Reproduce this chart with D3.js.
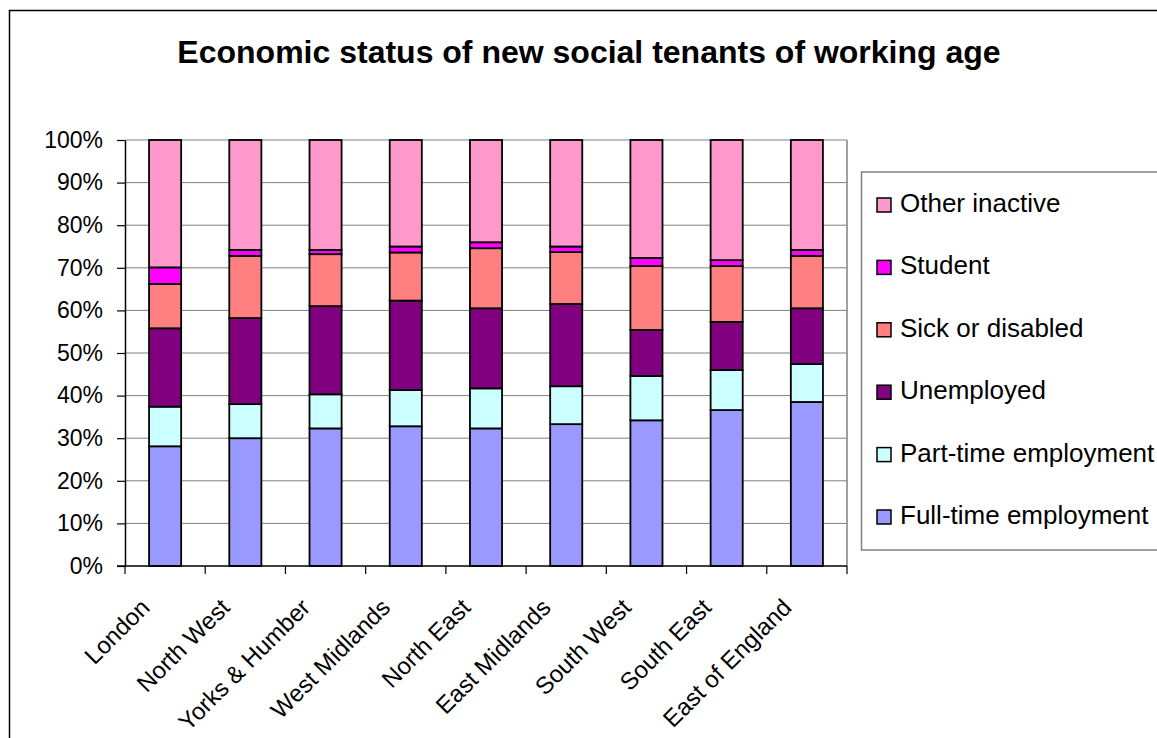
<!DOCTYPE html>
<html>
<head>
<meta charset="utf-8">
<script src="https://cdn.jsdelivr.net/npm/d3@7"></script>
<style>
    body { margin: 0; background: #fff; }
    svg { display: block; font-family: Arial, 'Liberation Sans', sans-serif; }
</style>
</head>
<body>
<svg id="chart" width="1157" height="738"></svg>
<script>
// Categories and series (percent of new social tenants of working age)
const regions = ['London', 'North West', 'Yorks & Humber', 'West Midlands', 'North East',
    'East Midlands', 'South West', 'South East', 'East of England'];
const statuses = ['Full-time employment', 'Part-time employment', 'Unemployed',
    'Sick or disabled', 'Student', 'Other inactive'];

const fullTime      = [28.1, 30.0, 32.3, 32.8, 32.3, 33.3, 34.2, 36.6, 38.5];
const partTime      = [ 9.3,  8.0,  8.0,  8.5,  9.4,  8.9, 10.4,  9.4,  8.9];
const unemployed    = [18.4, 20.2, 20.7, 21.0, 18.8, 19.3, 10.8, 11.3, 13.1];
const sickDisabled  = [10.4, 14.6, 12.2, 11.3, 14.1, 12.2, 15.0, 13.1, 12.3];
const student       = [ 3.9,  1.4,  1.0,  1.4,  1.4,  1.3,  1.9,  1.4,  1.4];
const otherInactive = [29.9, 25.8, 25.8, 25.0, 24.0, 25.0, 27.7, 28.2, 25.8];

const yTicks = [0, 10, 20, 30, 40, 50, 60, 70, 80, 90, 100];

const seriesValues = [fullTime, partTime, unemployed, sickDisabled, student, otherInactive];
const colours = ['#9999ff', '#ccffff', '#800080', '#ff8080', '#ff00ff', '#ff99cc'];

// Rows for d3.stack
const rows = regions.map((r, i) => {
    const row = { region: r };
    statuses.forEach((s, j) => row[s] = seriesValues[j][i]);
    return row;
});

const svg = d3.select('#chart');
const plot = { left: 125, right: 847, top: 140, bottom: 566 };

// Outer chart border (runs off the right and bottom of the picture)
svg.append('rect')
    .attr('x', 9.5).attr('y', 10.5)
    .attr('width', 1200).attr('height', 800)
    .attr('fill', 'none')
    .attr('stroke', '#000')
    .attr('stroke-width', 1.5);

svg.append('text')
    .attr('x', 589)
    .attr('y', 63)
    .attr('text-anchor', 'middle')
    .style('font-size', '32px')
    .style('font-weight', 'bold')
    .text('Economic status of new social tenants of working age');

// Scales
const xCat = d3.scaleBand()
    .domain(regions)
    .range([plot.left, plot.right]);

const x = d3.scaleBand()
    .domain(regions)
    .range([plot.left, plot.right])
    .paddingInner(0.6)
    .paddingOuter(0.3);

const y = d3.scaleLinear()
    .domain([0, 100])
    .range([plot.bottom, plot.top]);

const colour = d3.scaleOrdinal().domain(statuses).range(colours);

// Gridlines
svg.append('g')
    .selectAll('line')
    .data(yTicks.filter(d => d > 0))
    .join('line')
        .attr('x1', plot.left).attr('x2', plot.right)
        .attr('y1', d => y(d)).attr('y2', d => y(d))
        .attr('stroke', '#808080')
        .attr('stroke-width', 1);

// Plot area right border
svg.append('line')
    .attr('x1', plot.right).attr('x2', plot.right)
    .attr('y1', plot.top).attr('y2', plot.bottom)
    .attr('stroke', '#808080')
    .attr('stroke-width', 1.5);

// Stacked bars
const stacked = d3.stack().keys(statuses)(rows);

svg.append('g')
    .selectAll('g')
    .data(stacked)
    .join('g')
        .attr('fill', d => colour(d.key))
    .selectAll('rect')
    .data(d => d)
    .join('rect')
        .attr('x', d => x(d.data.region))
        .attr('width', x.bandwidth())
        .attr('y', d => y(d[1]))
        .attr('height', d => y(d[0]) - y(d[1]))
        .attr('stroke', '#000')
        .attr('stroke-width', 1.8);

// Y axis
const yAxisG = svg.append('g')
    .attr('transform', `translate(${plot.left},0)`)
    .call(d3.axisLeft(y)
        .tickValues(yTicks)
        .tickFormat(d => d + '%')
        .tickSize(8)
        .tickPadding(14)
        .tickSizeOuter(0));
yAxisG.select('.domain').attr('stroke', '#000').attr('stroke-width', 1.5);
yAxisG.selectAll('.tick line').attr('stroke', '#000').attr('stroke-width', 1.2);
yAxisG.selectAll('.tick text')
    .style('font-size', '23px')
    .style('font-family', "Arial, 'Liberation Sans', sans-serif")
    .attr('fill', '#000');

// X axis: line, ticks at category boundaries, rotated labels
const xAxisG = svg.append('g');
xAxisG.append('line')
    .attr('x1', plot.left - 8).attr('x2', plot.right)
    .attr('y1', plot.bottom).attr('y2', plot.bottom)
    .attr('stroke', '#000')
    .attr('stroke-width', 1.5);

const boundaries = regions.map(r => xCat(r)).concat([plot.right]);
xAxisG.selectAll('line.tick')
    .data(boundaries)
    .join('line')
        .attr('class', 'tick')
        .attr('x1', d => d).attr('x2', d => d)
        .attr('y1', plot.bottom).attr('y2', plot.bottom + 8)
        .attr('stroke', '#000')
        .attr('stroke-width', 1.2);

xAxisG.selectAll('text')
    .data(regions)
    .join('text')
        .attr('transform', d =>
            `translate(${xCat(d) + xCat.bandwidth() / 2 - 14},${plot.bottom + 43}) rotate(-45)`)
        .attr('text-anchor', 'end')
        .style('font-size', '24px')
        .text(d => d);

// Legend (top entry is the top of the stack)
const legend = svg.append('g');
legend.append('rect')
    .attr('x', 861.5).attr('y', 172)
    .attr('width', 400).attr('height', 378)
    .attr('fill', '#fff')
    .attr('stroke', '#808080')
    .attr('stroke-width', 1.5);

const legendItems = legend.selectAll('g.item')
    .data(statuses.slice().reverse())
    .join('g')
        .attr('class', 'item')
        .attr('transform', (d, i) => `translate(877,${212 + i * 62.4})`);
legendItems.append('rect')
    .attr('x', 0).attr('y', -14)
    .attr('width', 14).attr('height', 14)
    .attr('fill', d => colour(d))
    .attr('stroke', '#000')
    .attr('stroke-width', 1.5);
legendItems.append('text')
    .attr('x', 23)
    .attr('y', 0)
    .style('font-size', '26px')
    .text(d => d);
</script>
</body>
</html>
